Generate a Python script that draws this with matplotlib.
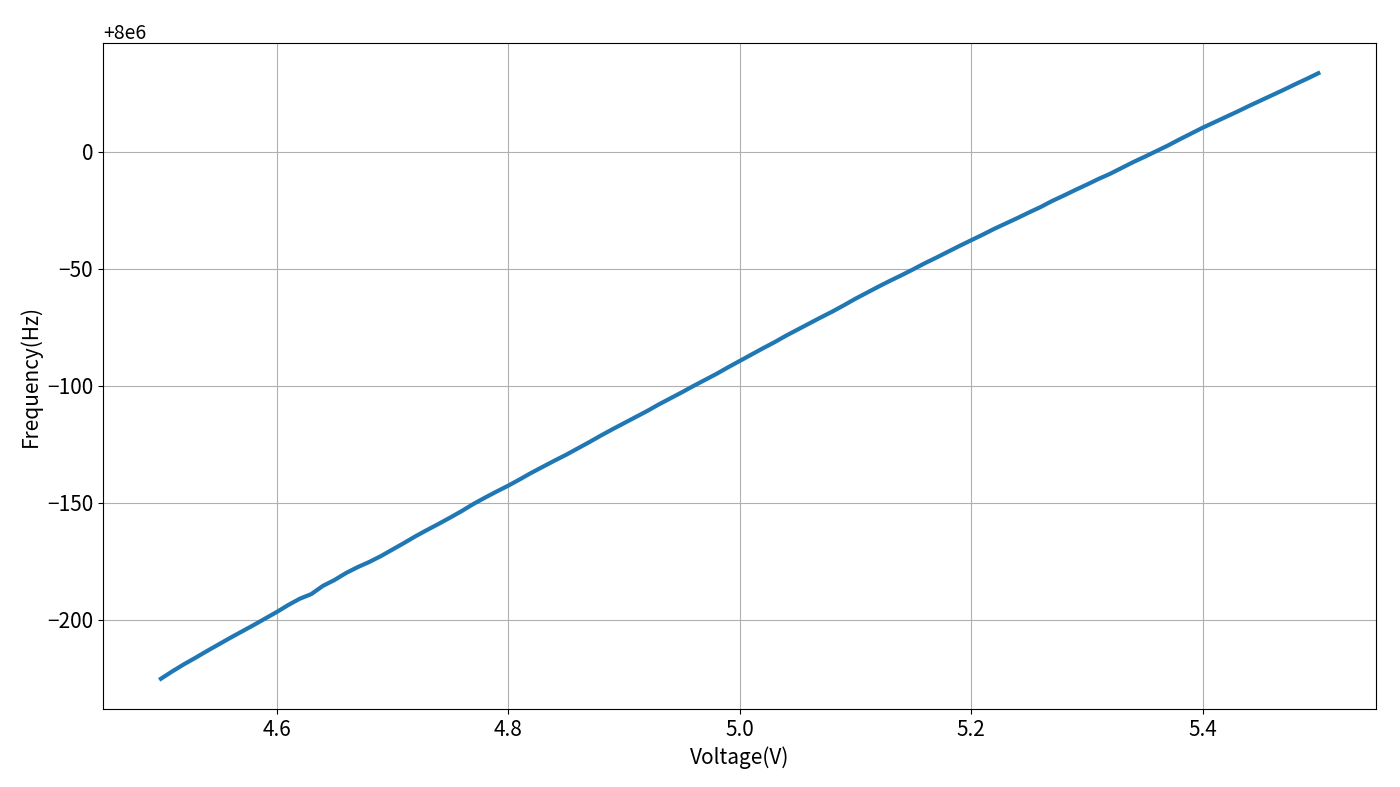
import matplotlib
matplotlib.use('Agg')
import matplotlib.pyplot as plt

plt.rcParams['font.family'] = ['Noto Sans CJK SC', 'DejaVu Sans']
plt.rcParams['axes.unicode_minus'] = True

# voltage sweep (V)
voltage = [
    4.50, 4.51, 4.52, 4.53, 4.54, 4.55, 4.56, 4.57, 4.58, 4.59,
    4.60, 4.61, 4.62, 4.63, 4.64, 4.65, 4.66, 4.67, 4.68, 4.69,
    4.70, 4.71, 4.72, 4.73, 4.74, 4.75, 4.76, 4.77, 4.78, 4.79,
    4.80, 4.81, 4.82, 4.83, 4.84, 4.85, 4.86, 4.87, 4.88, 4.89,
    4.90, 4.91, 4.92, 4.93, 4.94, 4.95, 4.96, 4.97, 4.98, 4.99,
    5.00, 5.01, 5.02, 5.03, 5.04, 5.05, 5.06, 5.07, 5.08, 5.09,
    5.10, 5.11, 5.12, 5.13, 5.14, 5.15, 5.16, 5.17, 5.18, 5.19,
    5.20, 5.21, 5.22, 5.23, 5.24, 5.25, 5.26, 5.27, 5.28, 5.29,
    5.30, 5.31, 5.32, 5.33, 5.34, 5.35, 5.36, 5.37, 5.38, 5.39,
    5.40, 5.41, 5.42, 5.43, 5.44, 5.45, 5.46, 5.47, 5.48, 5.49,
    5.50,
]

# frequency minus 8 MHz (Hz)
freq_offset = [
    -225.2, -222.0, -219.0, -216.2, -213.3, -210.5, -207.7, -205.0, -202.3, -199.5,
    -196.7, -193.7, -191.0, -189.0, -185.5, -183.0, -180.0, -177.5, -175.3, -172.8,
    -170.0, -167.2, -164.3, -161.6, -159.0, -156.3, -153.5, -150.5, -147.8, -145.2,
    -142.7, -140.0, -137.2, -134.6, -132.0, -129.5, -126.8, -124.1, -121.3, -118.6,
    -116.0, -113.4, -110.8, -108.0, -105.4, -102.8, -100.1, -97.5, -94.9, -92.1,
    -89.4, -86.7, -84.0, -81.4, -78.6, -76.0, -73.4, -70.8, -68.3, -65.6,
    -62.8, -60.2, -57.6, -55.1, -52.7, -50.2, -47.6, -45.2, -42.7, -40.2,
    -37.8, -35.4, -32.9, -30.6, -28.3, -25.9, -23.6, -21.0, -18.7, -16.3,
    -14.0, -11.6, -9.4, -6.9, -4.4, -2.1, 0.3, 2.7, 5.3, 7.8,
    10.3, 12.6, 14.9, 17.2, 19.6, 21.9, 24.2, 26.5, 28.9, 31.2,
    33.6,
]
base = 8e6
frequency = [base + f for f in freq_offset]

fig, ax = plt.subplots(figsize=(14, 7.87), dpi=100)
fig.subplots_adjust(left=0.0736, right=0.983, top=0.9454, bottom=0.0991)

ax.plot(voltage, frequency, color='#1f77b4', linewidth=3)
ax.grid(True)
ax.set_xlabel('Voltage(V)', fontsize=15)
ax.set_ylabel('Frequency(Hz)', fontsize=15)
ax.tick_params(labelsize=15)
ax.yaxis.get_offset_text().set_fontsize(14)

fig.savefig('out.png', dpi=100)
